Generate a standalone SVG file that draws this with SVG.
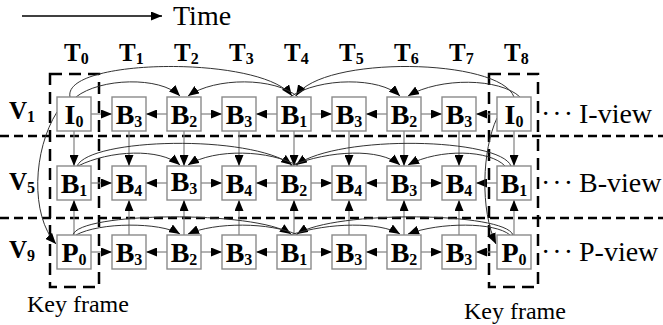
<svg xmlns="http://www.w3.org/2000/svg" width="663" height="325" viewBox="0 0 663 325">
<style>
.box{fill:#fff;stroke:#8a8a8a;stroke-width:1.4}
.lbl{font-family:"Liberation Serif","Times New Roman",serif;font-weight:bold;font-size:28px;fill:#000;text-anchor:middle}
.sub{font-size:16px}
.hd{font-family:"Liberation Serif","Times New Roman",serif;font-weight:bold;font-size:25px;fill:#000}
.txt{font-family:"Liberation Serif","Times New Roman",serif;font-size:28px;fill:#000}
.dots{letter-spacing:2px}
.st{stroke:#808080;stroke-width:1.2;fill:none}
.cv{stroke:#333;stroke-width:1;fill:none}
.dash{stroke:#000;stroke-width:2.5;fill:none;stroke-dasharray:9,5}
.kf{stroke:#000;stroke-width:2.5;fill:none;stroke-dasharray:12,7}
</style>
<defs>
<marker id="ah" markerUnits="userSpaceOnUse" markerWidth="11" markerHeight="9" refX="11" refY="4.5" orient="auto"><path d="M0,0 L11,4.5 L0,9 z" fill="#000"/></marker>
</defs>
<g id="time-axis">
<line x1="22" y1="16" x2="162" y2="16" stroke="#000" stroke-width="1.3" marker-end="url(#ah)"/>
<text class="txt" x="173" y="25" font-size="22">Time</text>
</g>
<g id="separators">
<line class="dash" x1="0" y1="136" x2="663" y2="136"/>
<line class="dash" x1="0" y1="218" x2="663" y2="218"/>
<rect id="keyframe-left" class="kf" x="50" y="74" width="49" height="213"/>
<rect id="keyframe-right" class="kf" x="489" y="74" width="49" height="213"/>
</g>
<g id="time-labels" class="hd">
<text x="64" y="61">T<tspan class="sub" dy="3">0</tspan></text>
<text x="119" y="61">T<tspan class="sub" dy="3">1</tspan></text>
<text x="174" y="61">T<tspan class="sub" dy="3">2</tspan></text>
<text x="229" y="61">T<tspan class="sub" dy="3">3</tspan></text>
<text x="284" y="61">T<tspan class="sub" dy="3">4</tspan></text>
<text x="339" y="61">T<tspan class="sub" dy="3">5</tspan></text>
<text x="394" y="61">T<tspan class="sub" dy="3">6</tspan></text>
<text x="449" y="61">T<tspan class="sub" dy="3">7</tspan></text>
<text x="504" y="61">T<tspan class="sub" dy="3">8</tspan></text>
</g>
<g id="view-labels" class="hd" font-size="27">
<text x="9" y="119">V<tspan class="sub" dy="3">1</tspan></text>
<text x="9" y="190">V<tspan class="sub" dy="3">5</tspan></text>
<text x="9" y="258">V<tspan class="sub" dy="3">9</tspan></text>
</g>
<g id="view-names" class="txt">
<text y="123"><tspan class="dots" x="541">···</tspan> <tspan x="579">I-view</tspan></text>
<text y="192"><tspan class="dots" x="541">···</tspan> <tspan x="579">B-view</tspan></text>
<text y="261"><tspan class="dots" x="541">···</tspan> <tspan x="579">P-view</tspan></text>
<text x="27" y="312" font-size="24">Key frame</text>
<text x="464" y="319" font-size="24">Key frame</text>
</g>
<g id="connectors">
<g class="st" marker-end="url(#ah)">
<line x1="91" y1="114" x2="112" y2="114"/><line x1="167" y1="114" x2="146" y2="114"/>
<line x1="201" y1="114" x2="222" y2="114"/><line x1="277" y1="114" x2="256" y2="114"/>
<line x1="311" y1="114" x2="332" y2="114"/><line x1="387" y1="114" x2="366" y2="114"/>
<line x1="421" y1="114" x2="442" y2="114"/><line x1="497" y1="114" x2="476" y2="114"/>
<line x1="91" y1="183" x2="112" y2="183"/><line x1="167" y1="183" x2="146" y2="183"/>
<line x1="201" y1="183" x2="222" y2="183"/><line x1="277" y1="183" x2="256" y2="183"/>
<line x1="311" y1="183" x2="332" y2="183"/><line x1="387" y1="183" x2="366" y2="183"/>
<line x1="421" y1="183" x2="442" y2="183"/><line x1="497" y1="183" x2="476" y2="183"/>
<line x1="91" y1="252" x2="112" y2="252"/><line x1="167" y1="252" x2="146" y2="252"/>
<line x1="201" y1="252" x2="222" y2="252"/><line x1="277" y1="252" x2="256" y2="252"/>
<line x1="311" y1="252" x2="332" y2="252"/><line x1="387" y1="252" x2="366" y2="252"/>
<line x1="421" y1="252" x2="442" y2="252"/><line x1="497" y1="252" x2="476" y2="252"/>
<line x1="74" y1="131" x2="74" y2="166"/><line x1="129" y1="131" x2="129" y2="166"/>
<line x1="184" y1="131" x2="184" y2="166"/><line x1="239" y1="131" x2="239" y2="166"/>
<line x1="294" y1="131" x2="294" y2="166"/><line x1="349" y1="131" x2="349" y2="166"/>
<line x1="404" y1="131" x2="404" y2="166"/><line x1="459" y1="131" x2="459" y2="166"/>
<line x1="514" y1="131" x2="514" y2="166"/>
<line x1="74" y1="235" x2="74" y2="200"/><line x1="129" y1="235" x2="129" y2="200"/>
<line x1="184" y1="235" x2="184" y2="200"/><line x1="239" y1="235" x2="239" y2="200"/>
<line x1="294" y1="235" x2="294" y2="200"/><line x1="349" y1="235" x2="349" y2="200"/>
<line x1="404" y1="235" x2="404" y2="200"/><line x1="459" y1="235" x2="459" y2="200"/>
<line x1="514" y1="235" x2="514" y2="200"/>
</g>
<g class="cv" marker-end="url(#ah)">
<path d="M70,97 C62,58 262,55 292,96"/>
<path d="M514,97 C500,58 322,55 296,96"/>
<path d="M76,97 C100,78 160,76 180,96"/>
<path d="M298,97 C275,77 215,77 188,96"/>
<path d="M290,97 C320,77 380,77 400,96"/>
<path d="M520,97 C500,78 440,77 408,96"/>
<path d="M77,166 C90,138 250,134 292,165"/>
<path d="M511,166 C500,138 340,134 296,165"/>
<path d="M78,166 C110,150 160,148 180,165"/>
<path d="M298,166 C270,150 215,148 188,165"/>
<path d="M290,166 C330,150 380,148 400,165"/>
<path d="M505,166 C490,150 440,148 408,165"/>
<path d="M73,235 C78,212 255,210 291,234"/>
<path d="M513,235 C505,212 335,210 297,234"/>
<path d="M76,235 C100,222 160,222 180,234"/>
<path d="M298,235 C270,222 215,222 188,234"/>
<path d="M290,235 C330,222 380,222 400,234"/>
<path d="M510,235 C495,222 440,222 408,234"/>
<path d="M57,112 C33,150 30,215 56,244"/>
<path d="M497,118 C482,150 480,210 496,244"/>
</g>
</g>
<g id="n-v1-t0"><rect class="box" x="57" y="97" width="34" height="34"/><text class="lbl" x="74" y="124">I<tspan class="sub" dy="3">0</tspan></text></g>
<g id="n-v1-t1"><rect class="box" x="112" y="97" width="34" height="34"/><text class="lbl" x="129" y="124">B<tspan class="sub" dy="3">3</tspan></text></g>
<g id="n-v1-t2"><rect class="box" x="167" y="97" width="34" height="34"/><text class="lbl" x="184" y="124">B<tspan class="sub" dy="3">2</tspan></text></g>
<g id="n-v1-t3"><rect class="box" x="222" y="97" width="34" height="34"/><text class="lbl" x="239" y="124">B<tspan class="sub" dy="3">3</tspan></text></g>
<g id="n-v1-t4"><rect class="box" x="277" y="97" width="34" height="34"/><text class="lbl" x="294" y="124">B<tspan class="sub" dy="3">1</tspan></text></g>
<g id="n-v1-t5"><rect class="box" x="332" y="97" width="34" height="34"/><text class="lbl" x="349" y="124">B<tspan class="sub" dy="3">3</tspan></text></g>
<g id="n-v1-t6"><rect class="box" x="387" y="97" width="34" height="34"/><text class="lbl" x="404" y="124">B<tspan class="sub" dy="3">2</tspan></text></g>
<g id="n-v1-t7"><rect class="box" x="442" y="97" width="34" height="34"/><text class="lbl" x="459" y="124">B<tspan class="sub" dy="3">3</tspan></text></g>
<g id="n-v1-t8"><rect class="box" x="497" y="97" width="34" height="34"/><text class="lbl" x="514" y="124">I<tspan class="sub" dy="3">0</tspan></text></g>
<g id="n-v5-t0"><rect class="box" x="57" y="166" width="34" height="34"/><text class="lbl" x="74" y="193">B<tspan class="sub" dy="3">1</tspan></text></g>
<g id="n-v5-t1"><rect class="box" x="112" y="166" width="34" height="34"/><text class="lbl" x="129" y="193">B<tspan class="sub" dy="3">4</tspan></text></g>
<g id="n-v5-t2"><rect class="box" x="167" y="166" width="34" height="34"/><text class="lbl" x="184" y="191">B<tspan class="sub" dy="3">3</tspan></text></g>
<g id="n-v5-t3"><rect class="box" x="222" y="166" width="34" height="34"/><text class="lbl" x="239" y="193">B<tspan class="sub" dy="3">4</tspan></text></g>
<g id="n-v5-t4"><rect class="box" x="277" y="166" width="34" height="34"/><text class="lbl" x="294" y="193">B<tspan class="sub" dy="3">2</tspan></text></g>
<g id="n-v5-t5"><rect class="box" x="332" y="166" width="34" height="34"/><text class="lbl" x="349" y="193">B<tspan class="sub" dy="3">4</tspan></text></g>
<g id="n-v5-t6"><rect class="box" x="387" y="166" width="34" height="34"/><text class="lbl" x="404" y="193">B<tspan class="sub" dy="3">3</tspan></text></g>
<g id="n-v5-t7"><rect class="box" x="442" y="166" width="34" height="34"/><text class="lbl" x="459" y="193">B<tspan class="sub" dy="3">4</tspan></text></g>
<g id="n-v5-t8"><rect class="box" x="497" y="166" width="34" height="34"/><text class="lbl" x="514" y="193">B<tspan class="sub" dy="3">1</tspan></text></g>
<g id="n-v9-t0"><rect class="box" x="57" y="235" width="34" height="34"/><text class="lbl" x="74" y="262">P<tspan class="sub" dy="3">0</tspan></text></g>
<g id="n-v9-t1"><rect class="box" x="112" y="235" width="34" height="34"/><text class="lbl" x="129" y="262">B<tspan class="sub" dy="3">3</tspan></text></g>
<g id="n-v9-t2"><rect class="box" x="167" y="235" width="34" height="34"/><text class="lbl" x="184" y="262">B<tspan class="sub" dy="3">2</tspan></text></g>
<g id="n-v9-t3"><rect class="box" x="222" y="235" width="34" height="34"/><text class="lbl" x="239" y="262">B<tspan class="sub" dy="3">3</tspan></text></g>
<g id="n-v9-t4"><rect class="box" x="277" y="235" width="34" height="34"/><text class="lbl" x="294" y="262">B<tspan class="sub" dy="3">1</tspan></text></g>
<g id="n-v9-t5"><rect class="box" x="332" y="235" width="34" height="34"/><text class="lbl" x="349" y="262">B<tspan class="sub" dy="3">3</tspan></text></g>
<g id="n-v9-t6"><rect class="box" x="387" y="235" width="34" height="34"/><text class="lbl" x="404" y="262">B<tspan class="sub" dy="3">2</tspan></text></g>
<g id="n-v9-t7"><rect class="box" x="442" y="235" width="34" height="34"/><text class="lbl" x="459" y="262">B<tspan class="sub" dy="3">3</tspan></text></g>
<g id="n-v9-t8"><rect class="box" x="497" y="235" width="34" height="34"/><text class="lbl" x="514" y="262">P<tspan class="sub" dy="3">0</tspan></text></g>
</svg>
